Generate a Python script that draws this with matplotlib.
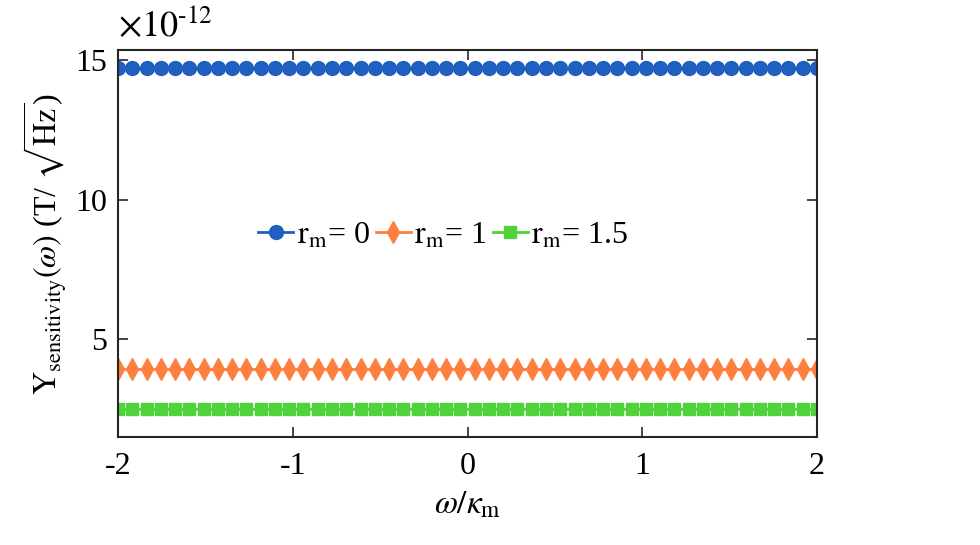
import numpy as np
import matplotlib
matplotlib.use("Agg")
import matplotlib.pyplot as plt
from matplotlib.ticker import FuncFormatter

plt.rcParams['font.family'] = ['Liberation Serif', 'DejaVu Serif']
plt.rcParams['mathtext.fontset'] = 'stix'

# data
n_points = 50
omega = np.linspace(-2, 2, n_points)
labels = [r'$\mathrm{r_m}$= 0', r'$\mathrm{r_m}$= 1', r'$\mathrm{r_m}$= 1.5']
y_rm0 = [14.72e-12] * n_points
y_rm1 = [3.93e-12] * n_points
y_rm15 = [2.50e-12] * n_points
xticks = [-2, -1, 0, 1, 2]
xticklabels = ['-2', '-1', '0', '1', '2']
yticks = [5e-12, 10e-12, 15e-12]
yscale = 1e-12

fig = plt.figure(figsize=(9.8, 5.45), dpi=100)
ax = fig.add_axes([0.1204, 0.198, 0.7133, 0.710])

ax.plot(omega, y_rm0, '-o', color='#1f5fbf', mfc='#1f5fbf', mec='#1f5fbf',
        lw=2, ms=10, label=labels[0])
ax.plot(omega, y_rm1, '-d', color='#ff7f3f', mfc='#ff7f3f', mec='#ff7f3f',
        lw=2, ms=11, label=labels[1])
ax.plot(omega, y_rm15, '-s', color='#4fd23a', mfc='#4fd23a', mec='#4fd23a',
        lw=2, ms=8.5, label=labels[2])

ax.set_xlim(-2, 2)
ax.set_ylim(1.5e-12, 15.36e-12)
ax.set_xticks(xticks)
ax.set_yticks(yticks)
ax.set_xticklabels(xticklabels)
ax.yaxis.set_major_formatter(FuncFormatter(lambda v, p: f'{v / yscale:g}'))

ax.text(0.0, 1.015, r'$\times10^{\text{-12}}$', transform=ax.transAxes,
        fontsize=26, ha='left', va='bottom')

ax.tick_params(direction='in', which='both', top=True, right=True,
               labelsize=23, length=7, width=1.2, color='#262626')
ax.tick_params(axis='x', pad=11)
ax.tick_params(axis='y', pad=8)
for sp in ax.spines.values():
    sp.set_linewidth(1.5)
    sp.set_color('#262626')

ax.set_xlabel(r'$\omega/\kappa_{\mathrm{m}}$', fontsize=24, labelpad=6)
ax.set_ylabel(r'$\mathrm{Y_{sensitivity}}(\omega)$ (T/ $\sqrt{\mathrm{Hz}}$)',
              fontsize=23, labelpad=4)

leg = ax.legend(loc='center', bbox_to_anchor=(0.465, 0.52), ncol=3, frameon=False,
                fontsize=23, handlelength=1.1, handletextpad=0.1,
                columnspacing=0.2)

fig.savefig('out.png', dpi=100)
